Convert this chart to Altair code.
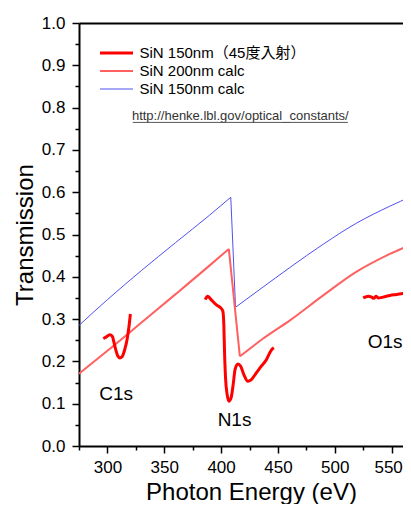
import altair as alt
import pandas as pd

FONT = "Liberation Sans, Arial, Noto Sans CJK JP, sans-serif"

SER_EXP = "SiN 150nm（45度入射）"
SER_200 = "SiN 200nm calc"
SER_150 = "SiN 150nm calc"
series_order = [SER_EXP, SER_200, SER_150]
series_colors = ["#ff0000", "#ff6060", "#5050f0"]
series_widths = [3, 1.0, 1.0]

# calculated transmission, SiN 150 nm (blue): below edge / above edge
blue_lo_E = [275, 300, 330, 360, 390, 408.5]
blue_lo_T = [0.285, 0.346, 0.415, 0.481, 0.546, 0.588]
blue_hi_E = [412.7, 437, 460.5, 489.8, 519.2, 548.5, 567, 578]
blue_hi_T = [0.328, 0.376, 0.422, 0.477, 0.527, 0.567, 0.590, 0.605]

# calculated transmission, SiN 200 nm (light red)
red_lo_E = [275, 300, 330, 360, 390, 406.8]
red_lo_T = [0.171, 0.225, 0.292, 0.359, 0.427, 0.466]
red_hi_E = [416.5, 437, 460.5, 489.8, 519.2, 548.5, 567, 578]
red_hi_T = [0.212, 0.254, 0.297, 0.356, 0.412, 0.454, 0.476, 0.489]

# measured, C1s region
c1s_E = [296.4, 299.1, 302.0, 304.4, 305.5, 307.3, 309.3, 310.8, 312.9, 315.2, 317.3, 319.0, 320.2]
c1s_T = [0.254, 0.258, 0.263, 0.259, 0.248, 0.228, 0.212, 0.208, 0.211, 0.228, 0.252, 0.283, 0.312]

# measured, N1s region
n1s_E = [386.0, 388.3, 391.2, 395.6, 399.5, 401.5, 402.4, 403.0, 403.9, 405.3, 406.8, 408.8,
         410.6, 412.3, 414.7, 417.1, 420.0, 423.5, 426.6, 431.0, 435.4, 439.8, 442.7, 444.6, 446.4]
n1s_T = [0.346, 0.354, 0.346, 0.334, 0.327, 0.319, 0.287, 0.224, 0.161, 0.122, 0.106, 0.114,
         0.145, 0.181, 0.194, 0.189, 0.169, 0.153, 0.157, 0.173, 0.189, 0.204, 0.220, 0.228, 0.232]

# measured, O1s region
o1s_E = [525.0, 529.4, 532.4, 534.4, 536.2, 538.2, 542.6, 548.5, 554.4, 561.7]
o1s_T = [0.350, 0.354, 0.352, 0.349, 0.354, 0.350, 0.352, 0.356, 0.358, 0.361]

# annotations
edge_labels = ["C1s", "N1s", "O1s"]
edge_label_E = [307.7, 411.8, 544.3]
edge_label_T = [0.124, 0.061, 0.245]
url_text = "http://henke.lbl.gov/optical_constants/"
url_E = 416.9
url_T = 0.779
url_line_E = [322.3, 511.5]
url_line_T = 0.765

x_major = [300, 350, 400, 450, 500, 550]
x_minor = [275, 325, 375, 425, 475, 525]
y_major = [round(i * 0.1, 1) for i in range(11)]
y_minor = [round(0.05 + i * 0.1, 2) for i in range(10)]
x_domain = [275, 560]
y_domain = [0, 1]

rows = []


def add(es, ts, series, seg):
    for e, t in zip(es, ts):
        rows.append({"E": e, "T": t, "series": series, "seg": seg, "ord": len(rows)})


add(blue_lo_E, blue_lo_T, SER_150, "b1")
add([blue_lo_E[-1], blue_hi_E[0]], [blue_lo_T[-1], blue_hi_T[0]], SER_150, "b2")
add(blue_hi_E, blue_hi_T, SER_150, "b3")
add(red_lo_E, red_lo_T, SER_200, "r1")
add([red_lo_E[-1], red_hi_E[0]], [red_lo_T[-1], red_hi_T[0]], SER_200, "r2")
add(red_hi_E, red_hi_T, SER_200, "r3")
add(c1s_E, c1s_T, SER_EXP, "c")
add(n1s_E, n1s_T, SER_EXP, "n")
add(o1s_E, o1s_T, SER_EXP, "o")
df = pd.DataFrame(rows)

xscale = alt.Scale(domain=x_domain, nice=False, zero=False)
yscale = alt.Scale(domain=y_domain, nice=False, zero=False)

axis_common = dict(
    domainColor="black", domainWidth=2, tickColor="black", tickWidth=1.5,
    labelColor="black", labelFont=FONT, labelFontSize=17, grid=False,
    titleFont=FONT, titleFontSize=24, titleFontWeight="normal", titleColor="black",
)

x_axis_major = alt.Axis(
    values=x_major, tickSize=7, labelPadding=6, title="Photon Energy (eV)",
    titlePadding=5, titleX=172, orient="bottom", format="d",
    labelOffset=alt.ConditionalAxisNumber(condition={"test": "datum.value == 550", "value": -3.5}, value=0),
    **axis_common,
)
y_axis_major = alt.Axis(values=y_major, tickSize=7, labelPadding=7, title="Transmission",
                        titlePadding=4, orient="left", format=".1f", **axis_common)
x_axis_minor = alt.Axis(values=x_minor, tickSize=4, labels=False, domain=False, title=None,
                        orient="bottom", ticks=True, tickColor="black", tickWidth=1.5, grid=False)
y_axis_minor = alt.Axis(values=y_minor, tickSize=4, labels=False, domain=False, title=None,
                        orient="left", ticks=True, tickColor="black", tickWidth=1.5, grid=False)
x_axis_top = alt.Axis(orient="top", labels=False, ticks=False, domain=True, domainColor="black",
                      domainWidth=2, title=None, grid=False)

legend = alt.Legend(
    title=None, orient="none", legendX=19.5, legendY=22,
    symbolType="stroke", symbolSize=1089, clipHeight=16, rowPadding=2,
    labelFont=FONT, labelFontSize=15, labelColor="black", labelOffset=5, padding=0,
    labelLimit=400,
)

lines = alt.Chart(df).mark_line(clip=True, interpolate="monotone").encode(
    x=alt.X("E:Q", scale=xscale, axis=x_axis_major),
    y=alt.Y("T:Q", scale=yscale, axis=y_axis_major),
    color=alt.Color("series:N", scale=alt.Scale(domain=series_order, range=series_colors),
                    sort=series_order, legend=legend),
    strokeWidth=alt.StrokeWidth("series:N", scale=alt.Scale(domain=series_order, range=series_widths),
                                sort=series_order, legend=legend),
    detail="seg:N",
    order="ord:Q",
)

minor = alt.Chart(df).mark_point(opacity=0).encode(
    x=alt.X("E:Q", scale=xscale, axis=x_axis_minor),
    y=alt.Y("T:Q", scale=yscale, axis=y_axis_minor),
)

top = alt.Chart(df).mark_point(opacity=0).encode(
    x=alt.X("E:Q", scale=xscale, axis=x_axis_top),
    y=alt.Y("T:Q", scale=yscale, axis=None),
)

lab_df = pd.DataFrame({"label": edge_labels, "E": edge_label_E, "T": edge_label_T})
labels = alt.Chart(lab_df).mark_text(font=FONT, fontSize=19, color="black", baseline="middle", align="center").encode(
    x=alt.X("E:Q", scale=xscale, axis=None),
    y=alt.Y("T:Q", scale=yscale, axis=None),
    text="label:N",
)

url_df = pd.DataFrame({"label": [url_text], "E": [url_E], "T": [url_T]})
url = alt.Chart(url_df).mark_text(font=FONT, fontSize=13, color="#333333", baseline="middle", align="center").encode(
    x=alt.X("E:Q", scale=xscale, axis=None),
    y=alt.Y("T:Q", scale=yscale, axis=None),
    text="label:N",
)
uline_df = pd.DataFrame({"E": [url_line_E[0]], "E2": [url_line_E[1]], "T": [url_line_T]})
uline = alt.Chart(uline_df).mark_rule(color="#555555", strokeWidth=1).encode(
    x=alt.X("E:Q", scale=xscale, axis=None),
    x2="E2:Q",
    y=alt.Y("T:Q", scale=yscale, axis=None),
)

chart = alt.layer(lines, minor, top, labels, url, uline).resolve_axis(
    x="independent", y="independent"
).properties(
    width=324, height=423,
    autosize=alt.AutoSizeParams(type="none"),
    padding={"left": 71, "top": 15, "right": 0, "bottom": 58},
).configure_view(
    stroke=None
).configure(background="white")

chart.save("out.html", embed_options={"renderer": "svg", "actions": False})
